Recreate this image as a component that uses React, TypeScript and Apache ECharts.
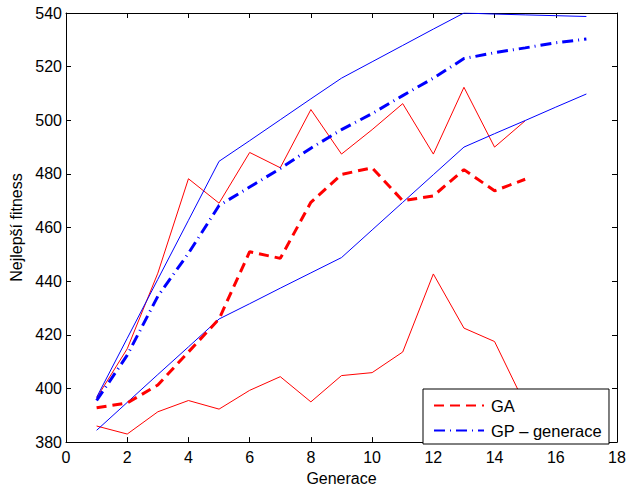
import React, { useEffect, useRef } from "react";
import * as echarts from "echarts";

const gaGenerations = [1, 2, 3, 4, 5, 6, 7, 8, 9, 10, 11, 12, 13, 14, 15];
const gpGenerations = [1, 2, 3, 4, 5, 6, 7, 8, 9, 10, 11, 12, 13, 14, 15, 16, 17];

const gaMean = [392.8, 394.6, 401.3, 413.6, 425.9, 451, 448.5, 469.4, 479.8, 482.3, 470, 471.8, 481.6, 473.7, 478];
const gaUpper = [396.5, 414.8, 443, 478.2, 469.1, 488, 482.3, 504, 487.4, 496.5, 506.2, 487.4, 512.3, 490, 499.8];
const gaLower = [386, 383, 391.3, 395.5, 392.3, 399.3, 404.4, 395, 404.8, 405.9, 413.6, 442.7, 422.5, 417.5, 394];

const gpMean = [395.5, 412.4, 434.4, 450.4, 468.2, 475.1, 482, 489.6, 496.5, 502.5, 509.2, 515.7, 523, 525.2, 527, 528.9, 530.3];
const gpUpper = [396.7, 418.7, 440.7, 462.7, 484.7, 492.4, 500.2, 508, 515.7, 521.8, 527.9, 534, 540, 539.6, 539.3, 539, 538.7];
const gpLower = [384.4, 394.8, 405.2, 415.5, 425.9, 431.6, 437.4, 443.1, 448.8, 459.1, 469.4, 479.7, 490, 495, 499.9, 504.9, 509.8];

const xTicks = [0, 2, 4, 6, 8, 10, 12, 14, 16, 18];
const yTicks = [380, 400, 420, 440, 460, 480, 500, 520, 540];

const seriesNames = { ga: "GA", gp: "GP – generace" };

const FONT = "'Liberation Sans', Arial, Helvetica, sans-serif";

function pairs(xs: number[], ys: number[]) {
  return xs.map((x, i) => [x, ys[i]]);
}

export default function App() {
  const ref = useRef<HTMLDivElement>(null);
  useEffect(() => {
    if (!ref.current) return;
    const chart = echarts.init(ref.current, undefined, { renderer: "svg" });
    const xMin = xTicks[0];
    const xMax = xTicks[xTicks.length - 1];
    const yMin = yTicks[0];
    const yMax = yTicks[yTicks.length - 1];
    const tickStyle = { show: true, inside: true, length: 5, lineStyle: { color: "#000", width: 1 } };
    const axisLine = { show: true, onZero: false, lineStyle: { color: "#000", width: 1 } };
    const labelStyle = { color: "#000", fontSize: 16, fontFamily: FONT };
    const thin = (color: string) => ({ color, width: 1, type: "solid" as const });
    const gaDash = [10, 6];
    const gpDash = [11, 5, 1, 5];
    chart.setOption({
      animation: false,
      backgroundColor: "#fff",
      grid: { left: 66, top: 13, right: 12, bottom: 43, containLabel: false },
      xAxis: [
        {
          type: "value",
          min: xMin,
          max: xMax,
          interval: 2,
          position: "bottom",
          axisLine,
          axisTick: tickStyle,
          axisLabel: { ...labelStyle, margin: 7 },
          splitLine: { show: false },
          name: "Generace",
          nameLocation: "middle",
          nameGap: 27,
          nameTextStyle: { ...labelStyle },
        },
        {
          type: "value",
          min: xMin,
          max: xMax,
          interval: 2,
          position: "top",
          axisLine,
          axisTick: tickStyle,
          axisLabel: { show: false },
          splitLine: { show: false },
        },
      ],
      yAxis: [
        {
          type: "value",
          min: yMin,
          max: yMax,
          interval: 20,
          position: "left",
          axisLine,
          axisTick: tickStyle,
          axisLabel: { ...labelStyle, margin: 4 },
          splitLine: { show: false },
          name: "Nejlepší fitness",
          nameLocation: "middle",
          nameGap: 37,
          nameTextStyle: { ...labelStyle },
        },
        {
          type: "value",
          min: yMin,
          max: yMax,
          interval: 20,
          position: "right",
          axisLine,
          axisTick: tickStyle,
          axisLabel: { show: false },
          splitLine: { show: false },
        },
      ],
      legend: {
        data: [
          { name: seriesNames.ga, itemStyle: { opacity: 0 } },
          { name: seriesNames.gp, itemStyle: { opacity: 0 } },
        ],
        orient: "vertical",
        left: 423,
        top: 389,
        padding: [8, 7, 5, 10],
        itemGap: 8,
        itemWidth: 50,
        itemHeight: 15,
        itemStyle: { opacity: 0 },
        backgroundColor: "#fff",
        borderColor: "#000",
        borderWidth: 1,
        borderRadius: 0,
        textStyle: { ...labelStyle, fontSize: 16.5, padding: [0, 0, 0, 2] },
        selectedMode: false,
      },
      series: [
        {
          name: "GA min",
          type: "line",
          data: pairs(gaGenerations, gaLower),
          showSymbol: false,
          symbol: "none",
          lineStyle: thin("#ff0000"),
          z: 2,
        },
        {
          name: "GA max",
          type: "line",
          data: pairs(gaGenerations, gaUpper),
          showSymbol: false,
          symbol: "none",
          lineStyle: thin("#ff0000"),
          z: 2,
        },
        {
          name: "GP min",
          type: "line",
          data: pairs(gpGenerations, gpLower),
          showSymbol: false,
          symbol: "none",
          lineStyle: thin("#0000ff"),
          z: 2,
        },
        {
          name: "GP max",
          type: "line",
          data: pairs(gpGenerations, gpUpper),
          showSymbol: false,
          symbol: "none",
          lineStyle: thin("#0000ff"),
          z: 2,
        },
        {
          name: seriesNames.ga,
          type: "line",
          data: pairs(gaGenerations, gaMean),
          showSymbol: false,
          symbol: "none",
          itemStyle: { color: "#ff0000" },
          lineStyle: { color: "#ff0000", width: 3, type: gaDash },
          z: 3,
        },
        {
          name: seriesNames.gp,
          type: "line",
          data: pairs(gpGenerations, gpMean),
          showSymbol: false,
          symbol: "none",
          itemStyle: { color: "#0000ff" },
          lineStyle: { color: "#0000ff", width: 3, type: gpDash },
          z: 3,
        },
      ],
    });
    return () => chart.dispose();
  }, []);
  return <div ref={ref} style={{ width: 629, height: 491, position: "absolute", left: 0, top: 0 }} />;
}
